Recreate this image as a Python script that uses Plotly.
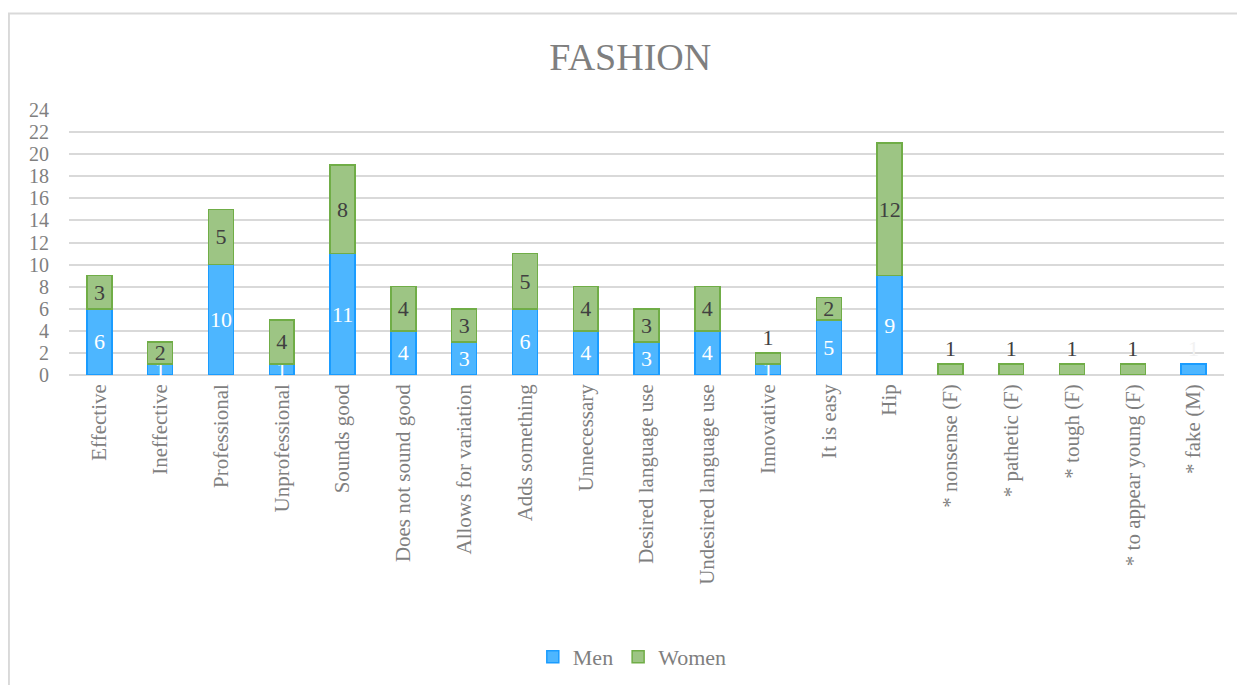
import plotly.graph_objects as go

categories = ["Effective", "Ineffective", "Professional", "Unprofessional", "Sounds good",
              "Does not sound good", "Allows for variation", "Adds something", "Unnecessary",
              "Desired language use", "Undesired language use", "Innovative", "It is easy", "Hip",
              "* nonsense (F)", "* pathetic (F)", "* tough (F)", "* to appear young (F)", "* fake (M)"]
men = [6, 1, 10, 1, 11, 4, 3, 6, 4, 3, 4, 1, 5, 9, None, None, None, None, 1]
women = [3, 2, 5, 4, 8, 4, 3, 5, 4, 3, 4, 1, 2, 12, 1, 1, 1, 1, None]
y_ticks = list(range(0, 25, 2))

FONT = "Liberation Serif"
GREY = "#7f7f7f"

def txt(vals):
    return ["" if v is None else str(v) for v in vals]

# men: the lone "* fake (M)" bar gets its (near-white) label above the bar
men_pos = ["outside" if (i >= 14 and v is not None) else "inside" for i, v in enumerate(men)]
men_col = ["#f2f2f2" if p == "outside" else "#ffffff" for p in men_pos]
# women: small single-unit bars at the end of the stack get labels above
women_pos = ["outside" if (i >= 11 and v == 1) else "inside" for i, v in enumerate(women)]

fig = go.Figure()
fig.add_trace(go.Bar(
    x=categories, y=men, name="Men",
    marker=dict(color="#4db6ff", line=dict(color="#1a9cff", width=1.5)),
    text=txt(men), textposition=men_pos, textangle=0,
    textfont=dict(family=FONT, size=22, color=men_col),
    insidetextanchor="middle", constraintext="none", cliponaxis=False,
))
fig.add_trace(go.Bar(
    x=categories, y=women, name="Women",
    marker=dict(color="#9dc584", line=dict(color="#70ad47", width=1.5)),
    text=txt(women), textposition=women_pos, textangle=0,
    textfont=dict(family=FONT, size=22, color="#404040"),
    insidetextanchor="middle", constraintext="none", cliponaxis=False,
))

# page body has an 8px margin; figure coordinates = screen coordinates - 8
OFF = 8
W, H = 1245 - OFF, 685 - OFF
ml, mr, mt, mb = 60.6, 21.2, 102, 310
pw, ph = W - ml - mr, H - mt - mb

def px_x(x):
    return (x - OFF - ml) / pw

def px_y(y):
    return (H - mb - (y - OFF)) / ph

fig.update_layout(
    width=W, height=H,
    margin=dict(l=ml, r=mr, t=mt, b=mb, autoexpand=False),
    barmode="stack", bargap=0.59,
    paper_bgcolor="white", plot_bgcolor="white",
    font=dict(family=FONT, color=GREY),
    title=dict(text="FASHION", x=px_x(630), xanchor="center", xref="paper",
               y=1 - (57 - OFF) / H, yanchor="middle",
               font=dict(family=FONT, size=38, color=GREY)),
    legend=dict(orientation="h", x=px_x(632), xanchor="center", y=px_y(657), yanchor="middle",
                font=dict(family=FONT, size=22, color=GREY),
                traceorder="normal"),
    xaxis=dict(tickangle=-90, tickfont=dict(family=FONT, size=21, color=GREY),
               showgrid=False, showline=False, ticks="", ticklabelstandoff=4),
    yaxis=dict(range=[0, 24], tickvals=y_ticks, tickfont=dict(family=FONT, size=20, color=GREY),
               showgrid=True, gridcolor="#d9d9d9", gridwidth=1.5, zeroline=True,
               zerolinecolor="#d9d9d9", zerolinewidth=1.5, ticks="", ticklabelstandoff=19),
    shapes=[
        dict(type="line", xref="paper", yref="paper", x0=px_x(7), x1=px_x(1245),
             y0=px_y(13.5), y1=px_y(13.5), line=dict(color="#d9d9d9", width=2)),
        dict(type="line", xref="paper", yref="paper", x0=px_x(8.5), x1=px_x(8.5),
             y0=px_y(13.5), y1=px_y(685), line=dict(color="#d9d9d9", width=2)),
    ],
)

fig.write_html("out.html")
